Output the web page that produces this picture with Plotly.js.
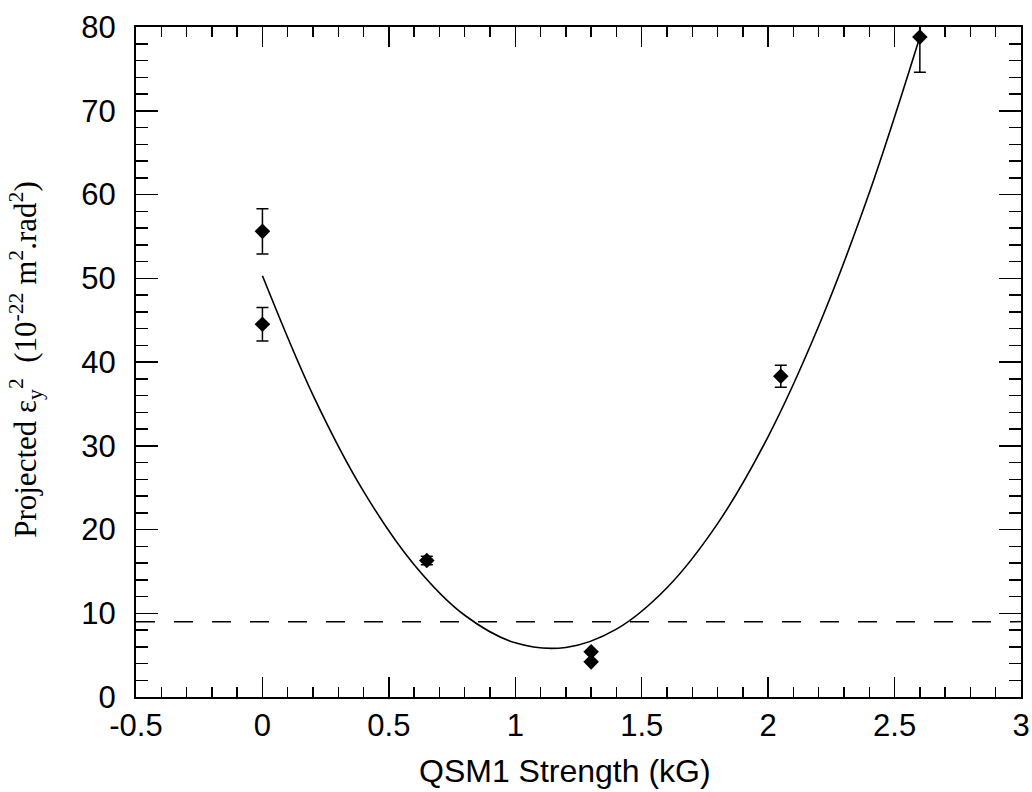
<!DOCTYPE html>
<html>
<head>
<meta charset="utf-8">
<script src="https://cdn.plot.ly/plotly-3.0.1.min.js"></script>
<style>html,body{margin:0;padding:0;background:#fff;}#chart{width:1032px;height:792px;}</style>
</head>
<body>
<div id="chart"></div>
<script>
// Measured points
const strengthKG = [0, 0, 0.65, 1.3, 1.3, 2.05, 2.6];
const emittance = [55.6, 44.5, 16.3, 5.4, 4.2, 38.3, 78.8];
const emittanceErr = [2.7, 2.0, 0.5, 0, 0, 1.3, 4.2];

// Fit curve
const fitX = [0, 0.2, 0.4, 0.6, 0.8, 1.0, 1.2, 1.4, 1.6, 1.8, 2.0, 2.2, 2.4, 2.6];
const fitY = [50.3, 36.05, 24.55, 15.8, 9.76, 6.47, 5.92, 8.11, 13.05, 20.7, 31.1, 44.3, 60.2, 78.8];

// Dashed reference level
const refX = [-0.5, 3];
const refY = [9, 9];

const xTickVals = [-0.5, 0, 0.5, 1, 1.5, 2, 2.5, 3];
const xTickText = ['-0.5', '0', '0.5', '1', '1.5', '2', '2.5', '3'];
const yTickVals = [0, 10, 20, 30, 40, 50, 60, 70, 80];

const xTitle = 'QSM1 Strength (kG)';
const yTitle = 'Projected ε<sub>y</sub><sup>2</sup>&nbsp;&nbsp;(10<sup>-22</sup> m<sup>2</sup>.rad<sup>2</sup>)';

const sans = '"Liberation Sans", Arial, Helvetica, sans-serif';
const serif = '"Liberation Serif", "Times New Roman", serif';

const traces = [
  {
    x: refX, y: refY, type: 'scatter', mode: 'lines',
    line: {color: '#000', width: 1.5, dash: '19px,19px'},
    hoverinfo: 'skip', showlegend: false
  },
  {
    x: fitX, y: fitY, type: 'scatter', mode: 'lines',
    line: {color: '#000', width: 1.6, shape: 'spline', smoothing: 1},
    showlegend: false
  },
  {
    x: strengthKG, y: emittance, type: 'scatter', mode: 'markers',
    marker: {symbol: 'diamond', size: 12, color: '#000'},
    error_y: {type: 'data', array: emittanceErr, visible: true, color: '#000', thickness: 1.5, width: 6},
    showlegend: false
  }
];

const layout = {
  width: 1032, height: 792,
  margin: {l: 136, r: 11, t: 27, b: 95},
  paper_bgcolor: '#fff', plot_bgcolor: '#fff',
  font: {family: sans, color: '#000'},
  xaxis: {
    range: [-0.5, 3], tickvals: xTickVals, ticktext: xTickText,
    ticks: 'inside', ticklen: 20, tickwidth: 1.5, tickcolor: '#000',
    minor: {dtick: 0.1, tick0: 0, ticks: 'inside', ticklen: 10, tickwidth: 1.5, tickcolor: '#000', showgrid: false},
    showline: true, linewidth: 2, linecolor: '#000', mirror: 'allticks',
    showgrid: false, zeroline: false,
    tickfont: {size: 31, family: sans},
    ticklabelstandoff: 0,
    automargin: false
  },
  yaxis: {
    range: [0, 80], tickvals: yTickVals,
    ticks: 'inside', ticklen: 22, tickwidth: 1.5, tickcolor: '#000',
    minor: {dtick: 2, tick0: 0, ticks: 'inside', ticklen: 12, tickwidth: 1.5, tickcolor: '#000', showgrid: false},
    showline: true, linewidth: 2, linecolor: '#000', mirror: 'allticks',
    showgrid: false, zeroline: false,
    tickfont: {size: 31, family: sans},
    ticklabelstandoff: 12,
    automargin: false
  },
  annotations: [
    {
      text: xTitle, xref: 'paper', yref: 'paper', x: 0.4847, y: -0.11,
      xanchor: 'center', yanchor: 'middle', showarrow: false,
      font: {size: 32, family: sans, color: '#000'}
    },
    {
      text: yTitle, xref: 'paper', yref: 'paper', x: -0.1245, y: 0.5045,
      xanchor: 'center', yanchor: 'middle', showarrow: false, textangle: -90,
      font: {size: 31, family: serif, color: '#000'}
    }
  ]
};

Plotly.newPlot('chart', traces, layout, {displayModeBar: false, staticPlot: true});
</script>
</body>
</html>
